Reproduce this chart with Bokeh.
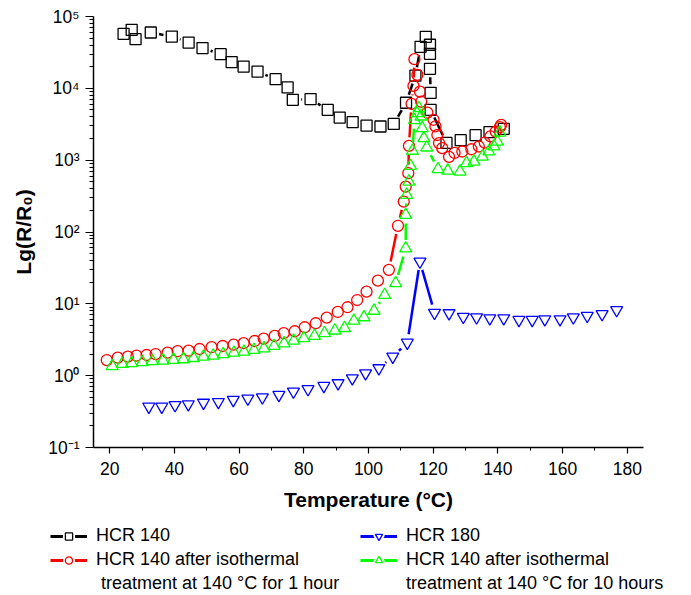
import numpy as np
from bokeh.plotting import figure
from bokeh.layouts import column, row
from bokeh.models import Legend, LegendItem, FixedTicker
from bokeh.embed import file_html
from bokeh.resources import INLINE

# ---------------- data ----------------
hcr140_x = [24.3, 26.8, 28.0, 32.7, 39.2, 44.4, 48.7, 54.3, 57.7, 61.4, 65.7, 71.3, 75.0, 76.6,
            82.1, 87.4, 91.1, 95.1, 99.4, 103.7, 107.8, 111.6, 114.5, 116.1, 117.7, 119.0, 119.0,
            119.0, 119.2, 119.2, 124.1, 128.5, 133.1, 137.4, 141.8]
hcr140_y = [57400, 65300, 48400, 59900, 52600, 43400, 36300, 29900, 23200, 20100, 17100, 13400,
            10300, 6920, 7080, 5020, 3920, 3380, 3030, 2940, 3200, 6300, 15000, 37800, 52100, 40400,
            30200, 18700, 8670, 5020, 1740, 1900, 2230, 2460, 2730]

iso1h_x = [19.1, 22.5, 25.6, 28.3, 31.4, 34.2, 37.9, 41.0, 44.4, 47.8, 51.5, 54.9, 58.3, 61.4,
           64.8, 67.6, 71.0, 73.8, 77.2, 80.3, 83.7, 87.1, 90.5, 93.5, 96.5, 99.4, 102.9, 106.3,
           109.1, 110.9, 111.5, 112.3, 112.5, 113.3, 113.9, 114.2, 115.1, 115.9, 116.3, 118.2,
           120.1, 120.7, 121.3, 121.8, 122.8, 124.9, 126.6, 129.0, 131.8, 134.1, 135.9, 137.7,
           139.3, 140.6, 141.0]
iso1h_y = [1.65, 1.78, 1.84, 1.90, 1.94, 2.00, 2.09, 2.19, 2.23, 2.35, 2.49, 2.59, 2.70, 2.83,
           3.04, 3.28, 3.57, 3.90, 4.15, 4.72, 5.37, 6.43, 7.71, 8.97, 11.3, 14.8, 21.0, 29.7,
           122, 265, 429, 659, 1580, 6080, 10800, 25500, 15400, 9000, 6500, 4600,
           3650, 2950, 2240, 1730, 1470, 1110, 1260, 1320, 1420, 1550, 1760, 2140,
           2500, 2880, 3100]

iso10h_x = [20.8, 23.9, 26.8, 30.1, 33.2, 36.5, 39.7, 42.8, 45.9, 49.0, 52.0, 55.1, 58.4, 61.5,
            64.6, 67.7, 70.8, 73.9, 76.9, 80.0, 83.3, 86.4, 89.6, 92.6, 95.5, 98.6, 101.7, 105.0,
            108.4, 111.5, 111.5, 111.8, 112.5, 113.0, 113.6, 114.2, 115.0, 115.6, 116.2, 116.6,
            117.1, 118.0, 121.5, 124.5, 128.3, 130.3, 132.6, 135.2, 137.2, 138.8, 139.8, 140.6]
iso10h_y = [1.36, 1.46, 1.49, 1.54, 1.59, 1.62, 1.66, 1.69, 1.76, 1.84, 1.90, 1.99, 2.09, 2.16,
            2.28, 2.40, 2.59, 2.82, 3.07, 3.32, 3.57, 3.90, 4.25, 4.60, 5.83, 6.50, 8.00, 13.3,
            19.4, 59, 173, 329, 503, 830, 1350, 3600, 4500, 5300, 4050, 2790,
            2020, 1500, 750, 716, 694, 910, 955, 1120, 1320, 1550, 1810, 2420]

hcr180_x = [32.1, 36.1, 40.2, 44.3, 49.0, 53.6, 58.2, 62.7, 67.2, 72.3, 76.8, 81.3, 86.2, 90.6,
            95.0, 99.1, 103.2, 107.5, 112.0, 115.9, 120.4, 124.9, 129.3, 133.4, 137.5, 141.8,
            146.5, 150.6, 154.5, 159.2, 163.3, 167.6, 172.2, 176.7]
hcr180_y = [0.37, 0.37, 0.39, 0.40, 0.42, 0.43, 0.46, 0.48, 0.50, 0.54, 0.60, 0.65, 0.72, 0.785,
            0.92, 1.08, 1.27, 1.84, 2.88, 38.7, 7.5, 7.4, 6.6, 6.5, 6.3, 6.3,
            5.97, 5.97, 6.1, 6.1, 6.5, 6.8, 7.2, 8.2]

x_major = [20, 40, 60, 80, 100, 120, 140, 160, 180]
x_minor = [30, 50, 70, 90, 110, 130, 150, 170]
y_major = [0.1, 1, 10, 100, 1000, 10000, 100000]
y_labels = ["10⁻¹", "10⁰", "10¹", "10²", "10³", "10⁴", "10⁵"]

labels = ["HCR 140", "HCR 180",
          "HCR 140 after isothermal", "HCR 140 after isothermal",
          " treatment at 140 °C for 1 hour", "treatment at 140 °C for 10 hours"]

# ---------------- layout ----------------
X_RANGE = (15, 185)
Y_RANGE = (0.1, 1e5)
FRAME_W, FRAME_H = 550, 431
SX = FRAME_W / (X_RANGE[1] - X_RANGE[0])
SY = FRAME_H / 6.0
FONT = "Liberation Sans"
TOTAL_W = 690
PLOT_H = 16 + FRAME_H + 75
LEG_H = 594 - PLOT_H


def gapped(xs, ys, gap):
    xs = np.asarray(xs, float)
    lys = np.log10(np.asarray(ys, float))
    segx, segy = [], []
    for i in range(len(xs) - 1):
        dx = (xs[i + 1] - xs[i]) * SX
        dy = (lys[i + 1] - lys[i]) * SY
        L = float(np.hypot(dx, dy))
        if L <= 2 * gap:
            continue
        t0 = gap / L
        t1 = 1 - t0
        segx.append([xs[i] + t0 * (xs[i + 1] - xs[i]), xs[i] + t1 * (xs[i + 1] - xs[i])])
        segy.append([10 ** (lys[i] + t0 * (lys[i + 1] - lys[i])),
                     10 ** (lys[i] + t1 * (lys[i + 1] - lys[i]))])
    return segx, segy


p = figure(width=TOTAL_W, height=PLOT_H,
           x_range=X_RANGE, y_range=Y_RANGE, y_axis_type="log",
           output_backend="svg", toolbar_location=None,
           min_border_left=93, min_border_right=TOTAL_W - 93 - FRAME_W,
           min_border_top=16, min_border_bottom=75)
p.outline_line_color = None
p.xgrid.visible = False
p.ygrid.visible = False

# legend-only figure below the plot (its swatch renderers sit outside its ranges)
q = figure(width=TOTAL_W, height=LEG_H, x_range=(0, 1), y_range=(0, 1),
           output_backend="svg", toolbar_location=None,
           x_axis_location=None, y_axis_location=None,
           min_border_left=0, min_border_right=0, min_border_top=0, min_border_bottom=0)
q.outline_line_color = None
q.xgrid.visible = False
q.ygrid.visible = False
OFF = [-5.0]

series = [
    (hcr140_x, hcr140_y, "black", "square", 11),
    (iso1h_x, iso1h_y, "red", "circle", 11),
    (iso10h_x, iso10h_y, "#00FF00", "triangle", 12),
    (hcr180_x, hcr180_y, "blue", "inverted_triangle", 12),
]

leg = {}
for xs, ys, col, mk, sz in series:
    sxs, sys_ = gapped(xs, ys, 8.5)
    p.multi_line(xs=sxs, ys=sys_, line_color=col, line_width=2.5)
    p.scatter(x=xs, y=ys, marker=mk, size=sz, fill_alpha=0, line_color=col, line_width=1.3)
    l1 = q.line(x=OFF, y=OFF, line_color=col, line_width=3)
    l2 = q.scatter(x=OFF, y=OFF, marker=mk, fill_color="white", line_color="white", line_width=5)
    l3 = q.scatter(x=OFF, y=OFF, marker=mk, fill_alpha=0, line_color=col, line_width=1.3)
    leg[col] = [l1, l2, l3]

blank = q.scatter(x=OFF, y=OFF, marker="circle", fill_alpha=0, line_alpha=0)

items = [
    LegendItem(label=labels[0], renderers=leg["black"]),
    LegendItem(label=labels[1], renderers=leg["blue"]),
    LegendItem(label=labels[2], renderers=leg["red"]),
    LegendItem(label=labels[3], renderers=leg["#00FF00"]),
    LegendItem(label=labels[4], renderers=[blank]),
    LegendItem(label=labels[5], renderers=[blank]),
]
legend = Legend(items=items, location=(50, LEG_H - 72), orientation="horizontal", ncols=2,
                glyph_width=37, glyph_height=18, label_standoff=9, spacing=3,
                label_width=261, label_height=20, padding=0, margin=0,
                border_line_color=None, background_fill_alpha=0,
                label_text_font=FONT, label_text_font_size="18px", label_text_color="black")
q.add_layout(legend, "center")

# axes
xa = p.xaxis[0]
xa.ticker = FixedTicker(ticks=x_major, minor_ticks=x_minor)
xa.axis_label = "Temperature (°C)"
ya = p.yaxis[0]
ya.ticker = FixedTicker(ticks=y_major,
                        minor_ticks=[k * 10.0 ** n for n in range(-1, 5) for k in range(2, 10)])
ya.major_label_overrides = {v: t for v, t in zip(y_major, y_labels)}
ya.axis_label = "Lg(R/R₀)"

for ax in (xa, ya):
    ax.axis_line_color = "black"
    ax.axis_line_width = 1.5
    ax.major_tick_line_color = "black"
    ax.minor_tick_line_color = "black"
    ax.major_tick_line_width = 1.2
    ax.minor_tick_line_width = 1
    ax.major_tick_in = 0
    ax.minor_tick_in = 0
    ax.major_label_text_font = FONT
    ax.major_label_text_font_size = "17.5px"
    ax.major_label_text_color = "black"
    ax.axis_label_text_font = FONT
    ax.axis_label_text_font_style = "bold"
    ax.axis_label_text_font_size = "21px"
    ax.axis_label_text_color = "black"

xa.major_tick_out = 6
xa.minor_tick_out = 3
xa.major_label_standoff = 8
xa.axis_label_standoff = 10
ya.major_tick_out = 8
ya.minor_tick_out = 4
ya.major_label_standoff = 6
ya.axis_label_standoff = 10

layout = column(p, row(q), spacing=0)
open("out.html", "w").write(file_html(layout, INLINE))
